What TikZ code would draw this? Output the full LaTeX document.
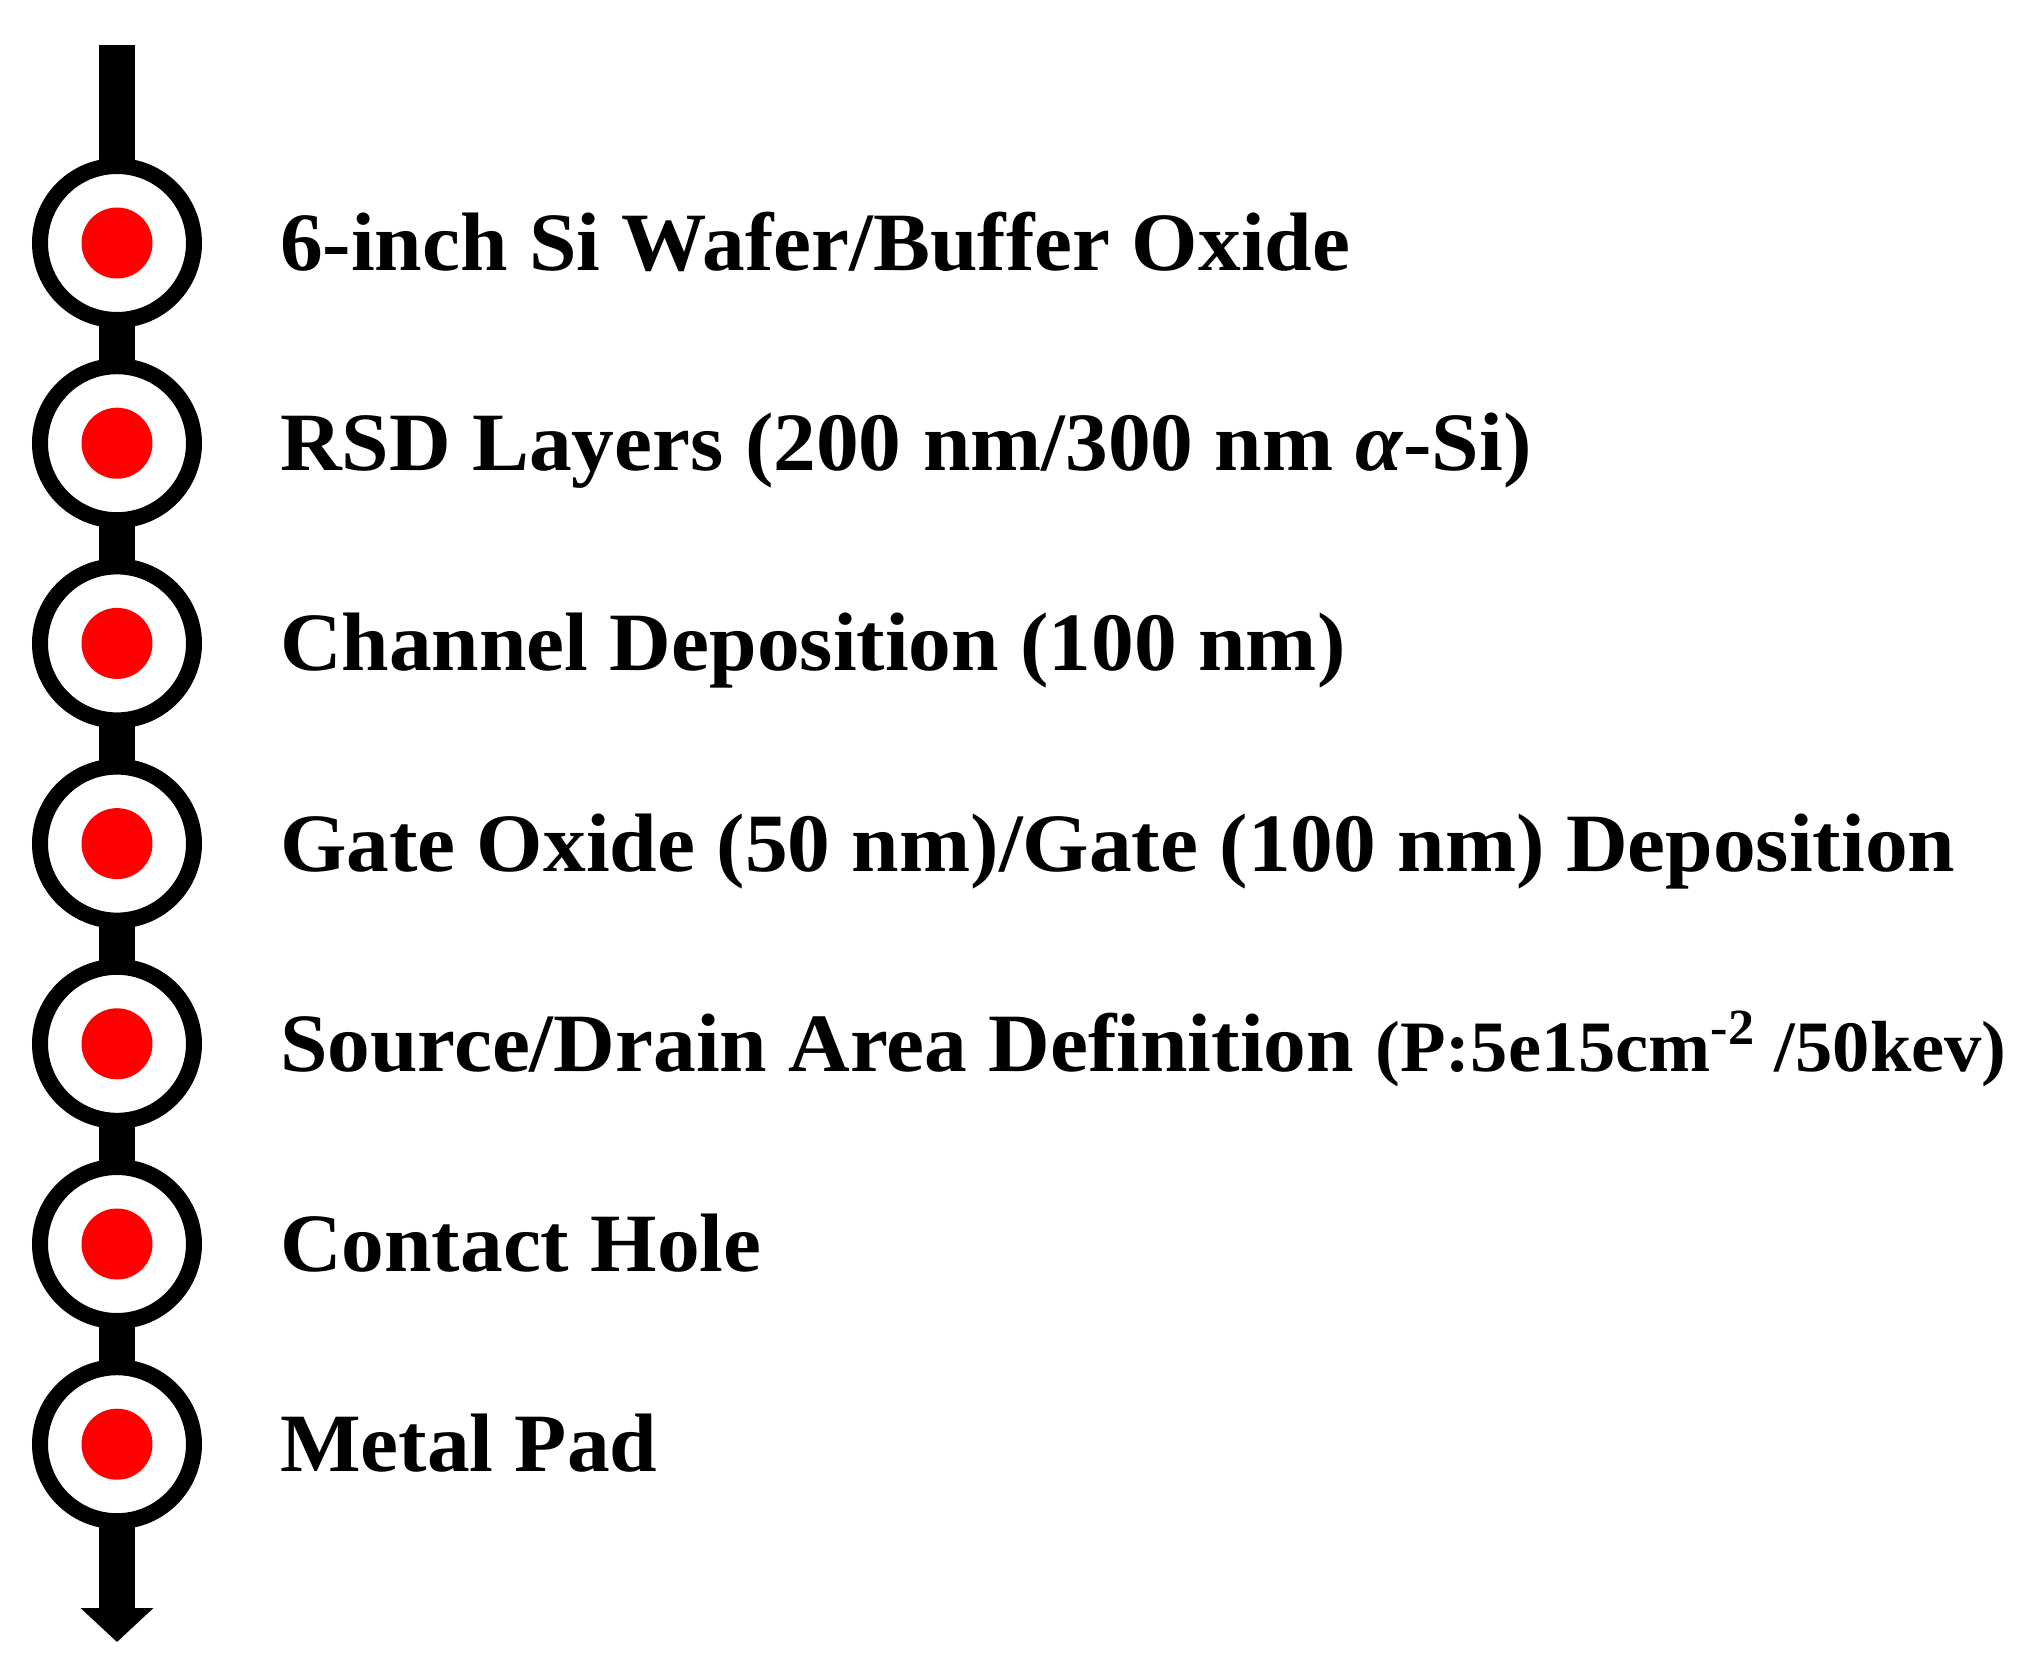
\documentclass[tikz,border=0pt]{standalone}
\usepackage{fontspec}
\setmainfont{Liberation Serif}[FakeStretch=1.03]
\usetikzlibrary{positioning,arrows.meta}

\begin{document}
\begin{tikzpicture}[line width=0.36cm]
   \useasboundingbox (0,0) rectangle (20.40,-16.68);
   \coordinate (top) at (1.17,-0.50);
   \coordinate (bottom) at (1.17,-16.42);
   \begin{scope}[every node/.style={circle, draw, line width=0.16cm, fill=white, minimum size=1.54cm, inner sep=0pt}]
    \node (s1) at (1.17,-2.430) {};
    \node (s2) at (1.17,-4.432) {};
    \node (s3) at (1.17,-6.434) {};
    \node (s4) at (1.17,-8.436) {};
    \node (s5) at (1.17,-10.438) {};
    \node (s6) at (1.17,-12.440) {};
    \node (s7) at (1.17,-14.442) {};
   \end{scope}
   \foreach \s in {s1,s2,s3,s4,s5,s6,s7}
    \fill[red] (\s) circle (0.355);
   \begin{scope}[every edge/.style={draw=black, line width=0.36cm, shorten <=-0.05cm, shorten >=-0.05cm}]
    \draw (top) edge (s1);
    \draw (s1) edge (s2);
    \draw (s2) edge (s3);
    \draw (s3) edge (s4);
    \draw (s4) edge (s5);
    \draw (s5) edge (s6);
    \draw (s6) edge (s7);
    \draw (s7) edge[shorten >=0pt, -{Triangle[width=0.71cm,length=0.34cm]}] (bottom);
   \end{scope}
   \begin{scope}[every node/.style={inner sep=0pt, outer sep=0pt, yshift=-0.275cm, font=\bfseries\fontsize{23.6pt}{28pt}\selectfont}]
    \node[base right=0.78cm of s1] (t1) {6-inch Si Wafer/Buffer Oxide};
    \node[base right=0.78cm of s2] (t2) {RSD Layers (200 nm/300 nm \textit{α}-Si)};
    \node[base right=0.78cm of s3] (t3) {Channel Deposition (100 nm)};
    \node[base right=0.78cm of s4] (t4) {Gate Oxide (50 nm)/Gate (100 nm) Deposition};
    \node[base right=0.78cm of s5] (t5) {Source/Drain Area Definition {\fontsize{20.6pt}{24pt}\selectfont(P:5e15cm\textsuperscript{-2} /50kev)}};
    \node[base right=0.78cm of s6] (t6) {Contact Hole};
    \node[base right=0.78cm of s7] (t7) {Metal Pad};
   \end{scope}
\end{tikzpicture}
\end{document}
